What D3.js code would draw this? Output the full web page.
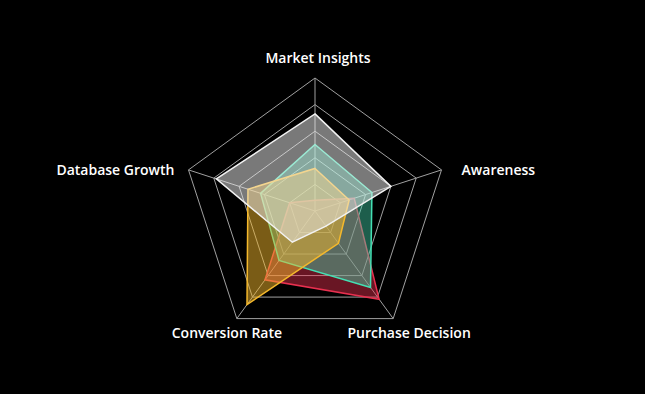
<!DOCTYPE html>
<html>
<head>
<meta charset="utf-8">
<script src="https://cdn.jsdelivr.net/npm/d3@7"></script>
<style>
  html, body { margin: 0; padding: 0; background: #000; }
  svg { display: block; }
</style>
</head>
<body>
<svg id="chart" width="645" height="394"></svg>
<script>
const axes = ["Market Insights", "Awareness", "Purchase Decision", "Conversion Rate", "Database Growth"];
const seriesNames = ["Red", "Teal", "Yellow", "White"];
const redValues    = [8, 31, 82, 64, 20];
const tealValues   = [50, 45, 71, 46, 43];
const yellowValues = [32, 27, 30, 87, 53];
const whiteValues  = [73, 60, 14, 29, 78];
const gridLevels = [20, 40, 60, 80, 100];
const colors = ["#e8304f", "#44e0b4", "#f4b82c", "#f2f2f2"];
const fillOpacities = [0.45, 0.42, 0.5, 0.5];

const series = [redValues, tealValues, yellowValues, whiteValues];

const W = 645, H = 394;
const cx = 315, cy = 211, R = 133;
const svg = d3.select("#chart");
svg.append("rect").attr("width", W).attr("height", H).attr("fill", "#000");
const g = svg.append("g").attr("transform", `translate(${cx},${cy})`);

const rScale = d3.scaleLinear().domain([0, 100]).range([0, R]);
const angle = d3.scalePoint().domain(axes).range([0, 2 * Math.PI * (axes.length - 1) / axes.length]);

const pt = (a, v) => {
  const t = angle(a);
  return [rScale(v) * Math.sin(t), -rScale(v) * Math.cos(t)];
};

// grid rings
gridLevels.forEach(l => {
  g.append("polygon")
    .attr("points", axes.map(a => pt(a, l).join(",")).join(" "))
    .attr("fill", "none")
    .attr("stroke", "#a0a0a0")
    .attr("stroke-width", 1);
});
// spokes
axes.forEach(a => {
  const p = pt(a, 100);
  g.append("line").attr("x1", 0).attr("y1", 0).attr("x2", p[0]).attr("y2", p[1])
    .attr("stroke", "#a0a0a0").attr("stroke-width", 1);
});

const line = d3.line().curve(d3.curveLinearClosed);
series.forEach((vals, i) => {
  g.append("path")
    .attr("d", line(axes.map((a, j) => pt(a, vals[j]))))
    .attr("fill", colors[i])
    .attr("fill-opacity", fillOpacities[i])
    .attr("stroke", colors[i])
    .attr("stroke-width", 1.5)
    .attr("stroke-linejoin", "miter");
});

// labels
axes.forEach(a => {
  const t = angle(a);
  const s = Math.sin(t), c = Math.cos(t);
  let anchor = "middle", x, y;
  if (Math.abs(c) > 0.99) {           // top
    x = 3; y = -(R + 21);
  } else if (Math.abs(s) > 0.8) {     // sides
    anchor = s > 0 ? "start" : "end";
    x = (R + 18) * s + 3; y = -R * c;
  } else {                            // bottom
    x = (R + 22) * s + 3; y = -(R + 17) * c;
  }
  g.append("text")
    .attr("x", x).attr("y", y)
    .attr("text-anchor", anchor)
    .attr("dominant-baseline", "central")
    .attr("fill", "#ffffff")
    .attr("font-family", "'Open Sans', sans-serif")
    .attr("font-weight", 600)
    .attr("font-size", 14)
    .text(a);
});
</script>
</body>
</html>
